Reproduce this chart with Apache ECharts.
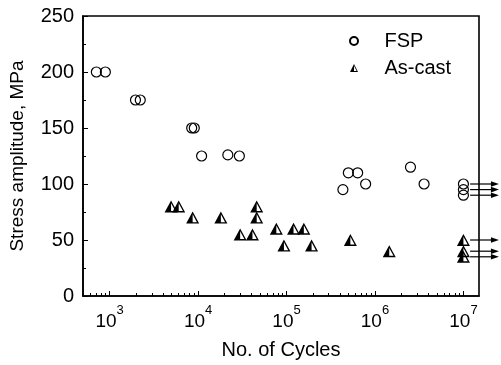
<!DOCTYPE html>
<html>
<head>
<meta charset="utf-8">
<script src="https://cdn.jsdelivr.net/npm/echarts@6/dist/echarts.min.js"></script>
<style>html,body{margin:0;padding:0;background:#fff}#c{width:501px;height:365px}</style>
</head>
<body>
<div id="c"></div>
<script>
// ---- data ----
var fspCycles = [708, 895, 1960, 2220, 8470, 9060, 10960, 21700, 29300, 434000, 500000, 637000, 784000, 2520000, 3590000, 1e7, 1e7, 1e7];
var fspStress = [200, 200, 175, 175, 150, 150, 125, 126, 125, 95, 110, 110, 100, 115, 100, 100, 95, 90];
var castCycles = [4950, 6040, 8680, 18100, 29900, 41200, 46000, 46000, 76700, 93500, 120000, 157000, 192000, 527000, 1450000, 1e7, 1e7, 1e7];
var castStress = [80, 80, 70, 70, 55, 55, 80, 70, 60, 45, 60, 60, 45, 50, 40, 50, 40, 35];
var runoutCycles = 1e7;
var fspRunoutStress = [100, 95, 90];
var castRunoutStress = [50, 40, 35];
var xMajorTicks = [1e3, 1e4, 1e5, 1e6, 1e7];
var xMinorMult = [2, 3, 4, 5, 6, 7, 8, 9];
var yTicks = [0, 50, 100, 150, 200, 250];
var seriesNames = ['FSP', 'As-cast'];
var xTitle = 'No. of Cycles';
var yTitle = 'Stress amplitude, MPa';

// ---- build ----
var FONT = '"Liberation Sans", Arial, sans-serif';
var xMin = 500, xMax = 1.5e7;
var minorVals = [];
[1e2, 1e3, 1e4, 1e5, 1e6, 1e7].forEach(function (d) {
  xMinorMult.forEach(function (m) { var v = d * m; if (v > xMin && v < xMax) minorVals.push(v); });
});
function pairs(xs, ys) { return xs.map(function (x, i) { return [x, ys[i]]; }); }
function runoutData(ys) { return ys.map(function (y) { return [runoutCycles, y]; }); }
var triPath = 'path://M5 0 L10 10 L0 10 Z M5 2.3 L1.75 8.8 L8.25 8.8 Z M5 2.3 L5 8.8 L1.75 8.8 Z';

function renderArrow(params, api) {
  var x = api.value(0), y = api.value(1);
  var p0 = api.coord([x * 1.19, y]);
  var p1 = api.coord([x * 2.52, y]);
  var head = 8, half = 2.8;
  return {
    type: 'group',
    children: [{
      type: 'line',
      shape: { x1: p0[0], y1: p0[1], x2: p1[0] - head + 1, y2: p1[1] },
      style: { stroke: '#000', lineWidth: 1.2 }
    }, {
      type: 'polygon',
      shape: { points: [[p1[0], p1[1]], [p1[0] - head, p1[1] - half], [p1[0] - head, p1[1] + half]] },
      style: { fill: '#000' }
    }]
  };
}

var chart = echarts.init(document.getElementById('c'), null, { renderer: 'canvas' });
chart.setOption({
  animation: false,
  backgroundColor: '#fff',
  textStyle: { fontFamily: FONT, color: '#000' },
  grid: { left: 81, right: 22, top: 16, bottom: 69, show: true, borderColor: '#000', borderWidth: 1.6, backgroundColor: 'transparent' },
  legend: {
    orient: 'vertical', left: 349, top: 31, itemGap: 7, padding: 0,
    itemWidth: 9, itemHeight: 8,
    data: seriesNames,
    textStyle: { fontFamily: FONT, fontSize: 20, color: '#000', lineHeight: 20, padding: [0, 0, 0, 21] }
  },
  xAxis: [{
    type: 'log', logBase: 10, min: xMin, max: xMax,
    name: xTitle, nameLocation: 'middle', nameGap: 44,
    nameTextStyle: { fontFamily: FONT, fontSize: 20, color: '#000' },
    axisLine: { lineStyle: { color: '#000', width: 1.6 } },
    axisTick: { inside: true, length: 5, customValues: xMajorTicks, lineStyle: { color: '#000', width: 1 } },
    axisLabel: {
      customValues: xMajorTicks, margin: 8,
      formatter: function (v) { return '{b|10}{s|' + Math.round(Math.log10(v)) + '}'; },
      rich: {
        b: { fontFamily: FONT, fontSize: 19, color: '#000', lineHeight: 36 },
        s: { fontFamily: FONT, fontSize: 13, color: '#000', lineHeight: 13, verticalAlign: 'top' }
      }
    },
    splitLine: { show: false }
  }, {
    type: 'log', logBase: 10, min: xMin, max: xMax, position: 'bottom',
    axisLine: { show: false },
    axisTick: { inside: true, length: 3, customValues: minorVals, lineStyle: { color: '#000', width: 1 } },
    axisLabel: { show: false },
    splitLine: { show: false }
  }],
  yAxis: {
    type: 'value', min: 0, max: 250, interval: 50,
    name: yTitle, nameLocation: 'middle', nameGap: 56,
    nameTextStyle: { fontFamily: FONT, fontSize: 19, color: '#000' },
    axisLine: { show: true, lineStyle: { color: '#000', width: 1.6 } },
    axisTick: { inside: true, length: 5, lineStyle: { color: '#000', width: 1 } },
    minorTick: { show: true, splitNumber: 2, length: 3, lineStyle: { color: '#000', width: 1 } },
    axisLabel: { fontFamily: FONT, fontSize: 20, color: '#000', margin: 9,
      formatter: function (v) { return yTicks.indexOf(v) >= 0 ? String(v) : ''; } },
    splitLine: { show: false }
  },
  series: [{
    name: seriesNames[0], type: 'scatter', xAxisIndex: 0,
    data: pairs(fspCycles, fspStress),
    symbol: 'circle', symbolSize: 10,
    itemStyle: { color: 'rgba(255,255,255,0)', borderColor: '#000', borderWidth: 1.2, opacity: 1 },
    z: 3
  }, {
    name: seriesNames[1], type: 'scatter', xAxisIndex: 0,
    data: pairs(castCycles, castStress),
    symbol: triPath, symbolSize: [13, 12], symbolKeepAspect: false,
    itemStyle: { color: '#000', opacity: 1 },
    z: 3
  }, {
    name: 'FSP run-out', type: 'custom', xAxisIndex: 0, clip: false, silent: true,
    data: runoutData(fspRunoutStress), renderItem: renderArrow, z: 2
  }, {
    name: 'As-cast run-out', type: 'custom', xAxisIndex: 0, clip: false, silent: true,
    data: runoutData(castRunoutStress), renderItem: renderArrow, z: 2
  }]
});
</script>
</body>
</html>
